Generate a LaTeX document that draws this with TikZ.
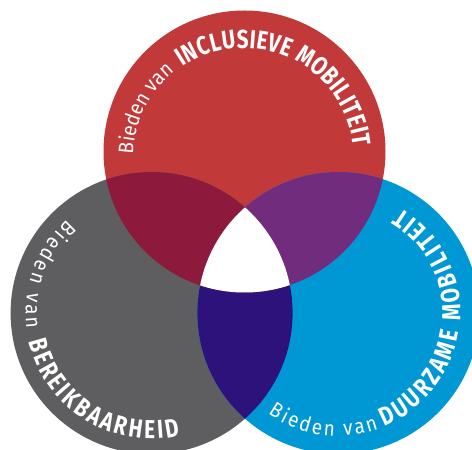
\documentclass[tikz,border=0pt]{standalone}
\usepackage{fontspec}
\setmainfont{Fira Sans}
\newfontfamily\vennlight[Scale=2.1, FakeStretch=0.9]{Fira Sans}
\newfontfamily\vennbold[Scale=2.6, FakeStretch=0.8]{Fira Sans}
\usetikzlibrary{decorations.text}

\definecolor{inclred}{RGB}{193,57,56}
\definecolor{bereikgrey}{RGB}{94,94,96}
\definecolor{duurblue}{RGB}{0,152,212}
\definecolor{crimson}{RGB}{141,26,60}
\definecolor{plum}{RGB}{114,44,126}
\definecolor{indigo}{RGB}{44,18,122}

\newcommand\lighttxt{\color{white}\vennlight}
\newcommand\boldtxt{\color{white}\vennbold\bfseries}

\tikzset{
    ringtext/.style={decorate, decoration={text along path, text align=fit to path, text={#1}}}
}

\begin{document}
\begin{tikzpicture}[x=1pt, y=1pt]
    \useasboundingbox (0,0) rectangle (472,450);
    \clip (0,0) rectangle (472,450);
    \coordinate (incl) at (244.5,298.5);
    \coordinate (bereik) at (151.6,137);
    \coordinate (duur) at (338.4,137);
    \coordinate (incltext) at (244,292);
    % circles
    \fill[inclred] (incl) circle (141);
    \fill[bereikgrey] (bereik) circle (141);
    \fill[duurblue] (duur) circle (141);
    % overlaps
    \begin{scope}
        \clip (bereik) circle (141);
        \fill[indigo] (duur) circle (141);
    \end{scope}
    \begin{scope}
        \clip (incl) circle (141);
        \fill[crimson] (bereik) circle (141);
        \fill[plum] (duur) circle (141);
    \end{scope}
    \begin{scope}
        \clip (incl) circle (141);
        \clip (bereik) circle (141);
        \fill[white] (duur) circle (141);
    \end{scope}
    % texts
    \path[ringtext={|\lighttxt|Bieden van}]
        ([shift={(178:111)}]incltext) arc[start angle=178, end angle=129, radius=111];
    \path[ringtext={|\boldtxt|INCLUSIEVE MOBILITEIT}]
        ([shift={(124:110)}]incltext) arc[start angle=124, end angle=6, radius=110];
    \path[ringtext={|\lighttxt|Bieden van}]
        ([shift={(132:126)}]bereik) arc[start angle=132, end angle=187, radius=126];
    \path[ringtext={|\boldtxt|BEREIKBAARHEID}]
        ([shift={(193:126)}]bereik) arc[start angle=193, end angle=283, radius=126];
    \path[ringtext={|\lighttxt|Bieden van}]
        ([shift={(235:123)}]duur) arc[start angle=235, end angle=289, radius=123];
    \path[ringtext={|\boldtxt|DUURZAME MOBILITEIT}]
        ([shift={(292:122)}]duur) arc[start angle=292, end angle=419, radius=122];
\end{tikzpicture}
\end{document}
